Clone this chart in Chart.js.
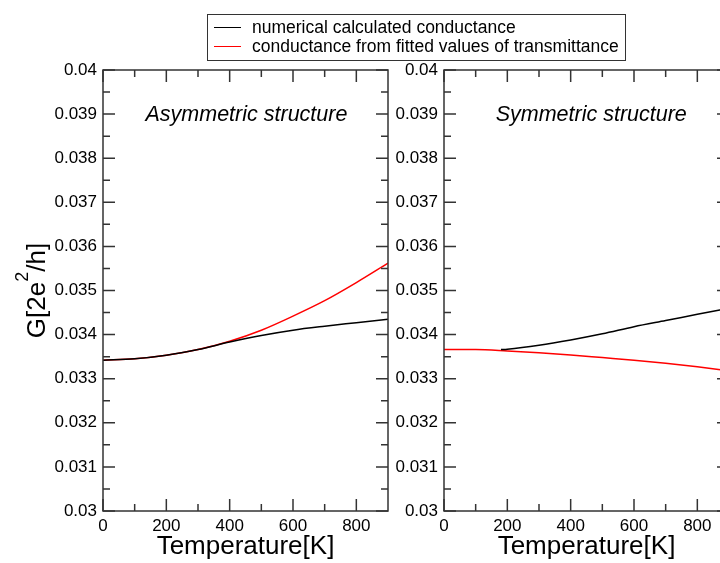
<!DOCTYPE html>
<html>
<head>
<meta charset="utf-8">
<script src="https://cdn.jsdelivr.net/npm/chart.js@4.4.1/dist/chart.umd.min.js"></script>
<style>
  body { margin: 0; background: #fff; }
  #wrap { position: relative; width: 720px; height: 563px; overflow: hidden; background: #fff;
          font-family: "Liberation Sans", Arial, Helvetica, sans-serif; }
  .panel { position: absolute; top: 0; }
  #legend { position: absolute; left: 207px; top: 14px; width: 417px; height: 42px;
            border: 1.5px solid #333; font-size: 17.5px; color: #000; padding-top: 3px; }
  #legend .row { height: 19px; line-height: 19px; position: relative; white-space: nowrap; }
  #legend .swatch { position: absolute; left: 6px; top: 9px; width: 27px; height: 0; border-top: 1.5px solid; }
  #legend .txt { position: absolute; left: 44px; top: 0; }
</style>
</head>
<body>
<div id="wrap">
  <canvas id="leftPanel" class="panel" width="400" height="563" style="left:0"></canvas>
  <canvas id="rightPanel" class="panel" width="400" height="563" style="left:341px"></canvas>
  <div id="legend"></div>
</div>
<script>
// Temperatura [K] e condutância G [2e^2/h]
const seriesLabels = ['numerical calculated conductance', 'conductance from fitted values of transmittance'];
const seriesColors = ['#000000', '#ff0000'];

const tempAsym = [0, 100, 200, 300, 400, 500, 600, 700, 800, 900];
const numAsym  = [0.03342, 0.03345, 0.03353, 0.03366, 0.03383, 0.03398, 0.03410, 0.03419, 0.03427, 0.03435];
const fitAsym  = [0.03342, 0.03345, 0.03353, 0.03366, 0.03385, 0.03410, 0.03442, 0.03477, 0.03518, 0.03562];

const tempSymNum = [180, 200, 300, 400, 500, 600, 700, 800, 900];
const numSym     = [0.03366, 0.03367, 0.03376, 0.03388, 0.03402, 0.03418, 0.03432, 0.03446, 0.03460];
const tempSymFit = [0, 100, 200, 300, 400, 500, 600, 700, 800, 900];
const fitSym     = [0.03366, 0.03366, 0.03363, 0.03359, 0.03354, 0.03348, 0.03342, 0.03335, 0.03327, 0.03318];

const xMajor = [0, 200, 400, 600, 800];
const xMinor = [100, 300, 500, 700];
const yMajor = [0.030, 0.031, 0.032, 0.033, 0.034, 0.035, 0.036, 0.037, 0.038, 0.039, 0.040];
const yMinor = [0.0305, 0.0315, 0.0325, 0.0335, 0.0345, 0.0355, 0.0365, 0.0375, 0.0385, 0.0395];

// título do eixo y em partes: [texto, sobrescrito?]
const yTitleParts = [['G[2e', false], ['2', true], ['/h]', false]];

const FONT = '"Liberation Sans", Arial, Helvetica, sans-serif';

// legenda comum aos dois painéis
document.getElementById('legend').innerHTML = seriesLabels.map((lbl, i) =>
  `<div class="row"><span class="swatch" style="border-color:${seriesColors[i]}"></span><span class="txt">${lbl}</span></div>`
).join('');

// moldura com ticks para dentro nos quatro lados + rótulo do painel
const framePlugin = {
  id: 'frame',
  afterDraw(chart, args, opts) {
    const { ctx, chartArea: a, scales: { x, y } } = chart;
    ctx.save();
    ctx.strokeStyle = '#333';
    ctx.lineWidth = 1.5;
    ctx.strokeRect(a.left, a.top, a.right - a.left, a.bottom - a.top);
    ctx.beginPath();
    const xt = (vals, len) => vals.forEach(v => {
      const px = x.getPixelForValue(v);
      ctx.moveTo(px, a.bottom); ctx.lineTo(px, a.bottom - len);
      ctx.moveTo(px, a.top); ctx.lineTo(px, a.top + len);
    });
    const yt = (vals, len) => vals.forEach(v => {
      const py = y.getPixelForValue(v);
      ctx.moveTo(a.left, py); ctx.lineTo(a.left + len, py);
      ctx.moveTo(a.right, py); ctx.lineTo(a.right - len, py);
    });
    xt(xMajor, 12); xt(xMinor, 7);
    yt(yMajor, 12); yt(yMinor, 7);
    ctx.stroke();

    ctx.fillStyle = '#000';
    ctx.font = 'italic 21.5px ' + FONT;
    ctx.textAlign = 'center';
    ctx.textBaseline = 'middle';
    ctx.fillText(opts.label, x.getPixelForValue(opts.labelX), y.getPixelForValue(opts.labelY));

    if (opts.yTitle) {
      // G[2e²/h] com sobrescrito de verdade
      const fonte = sup => (sup ? 18 : 26) + 'px ' + FONT;
      let total = 0;
      yTitleParts.forEach(([t, sup]) => { ctx.font = fonte(sup); total += ctx.measureText(t).width; });
      ctx.translate(45, (a.top + a.bottom) / 2);
      ctx.rotate(-Math.PI / 2);
      ctx.textAlign = 'left';
      ctx.textBaseline = 'alphabetic';
      let pos = -total / 2;
      yTitleParts.forEach(([t, sup]) => {
        ctx.font = fonte(sup);
        ctx.fillText(t, pos, sup ? -17 : 0);
        pos += ctx.measureText(t).width;
      });
    }
    ctx.restore();
  }
};

function criarPainel(id, blackX, blackY, redX, redY, label, labelX, showYTitle) {
  const toPts = (xs, ys) => xs.map((t, i) => ({ x: t, y: ys[i] }));
  return new Chart(document.getElementById(id), {
    type: 'line',
    data: {
      datasets: [
        { label: seriesLabels[0], data: toPts(blackX, blackY), borderColor: seriesColors[0], borderWidth: 1.5,
          pointRadius: 0, cubicInterpolationMode: 'monotone' },
        { label: seriesLabels[1], data: toPts(redX, redY), borderColor: seriesColors[1], borderWidth: 1.5,
          pointRadius: 0, cubicInterpolationMode: 'monotone' }
      ]
    },
    options: {
      responsive: false,
      animation: false,
      devicePixelRatio: 1,
      layout: { padding: { top: 70, right: 12, left: 0, bottom: 0 } },
      plugins: {
        legend: { display: false },
        tooltip: { enabled: false },
        frame: { label, labelX, labelY: 0.03898, yTitle: showYTitle }
      },
      scales: {
        x: {
          type: 'linear', min: 0, max: 900, position: 'bottom',
          grid: { display: false, drawTicks: false }, border: { display: false },
          afterBuildTicks: s => { s.ticks = xMajor.map(v => ({ value: v })); },
          afterFit: s => { s.height = 52; },
          ticks: { color: '#000', font: { family: FONT, size: 17 }, padding: 5, maxRotation: 0 },
          title: { display: true, text: 'Temperature[K]', color: '#000',
                   font: { family: FONT, size: 26, lineHeight: 1 }, padding: { top: 0, bottom: 3 } }
        },
        y: {
          type: 'linear', min: 0.03, max: 0.04, position: 'left',
          grid: { display: false, drawTicks: false }, border: { display: false },
          afterBuildTicks: s => { s.ticks = yMajor.map(v => ({ value: v })); },
          afterFit: s => { s.width = 103; },
          ticks: { color: '#000', font: { family: FONT, size: 17 }, padding: 6,
                   callback: v => String(+v.toFixed(3)) }
        }
      }
    },
    plugins: [framePlugin]
  });
}

criarPainel('leftPanel', tempAsym, numAsym, tempAsym, fitAsym, 'Asymmetric structure', 453, true);
criarPainel('rightPanel', tempSymNum, numSym, tempSymFit, fitSym, 'Symmetric structure', 465, false);
</script>
</body>
</html>
